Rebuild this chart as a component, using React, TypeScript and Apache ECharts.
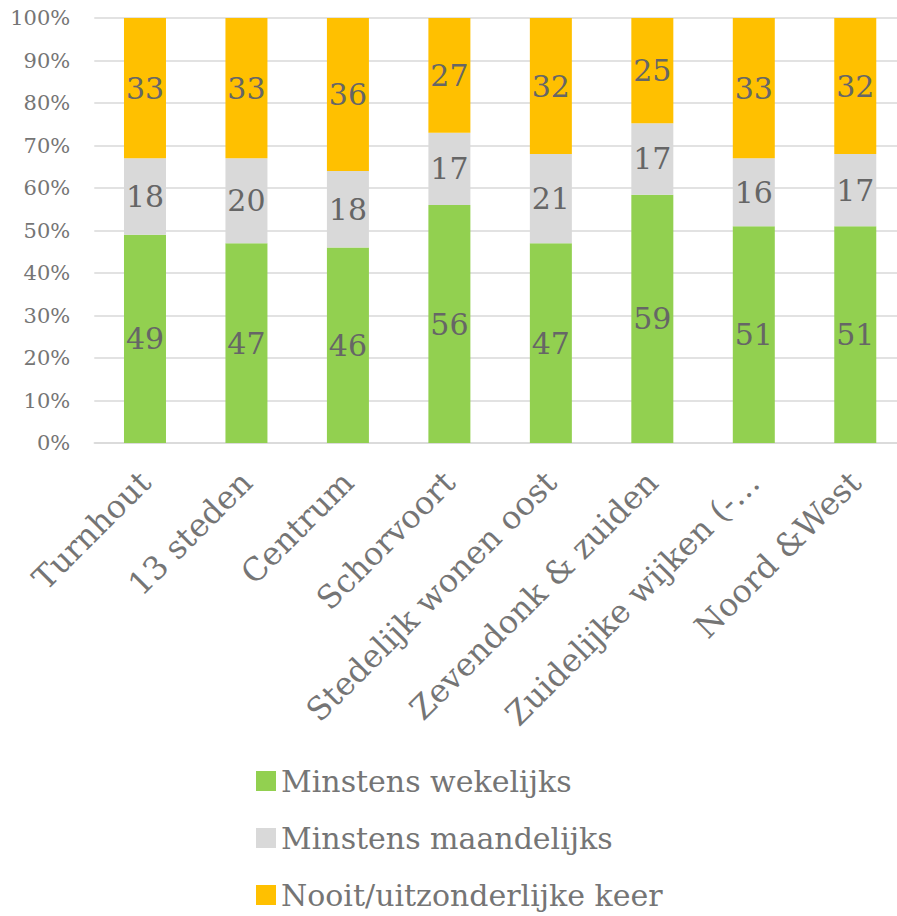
import React, { useEffect, useRef } from "react";
import * as echarts from "echarts";

const categories = [
  "Turnhout",
  "13 steden",
  "Centrum",
  "Schorvoort",
  "Stedelijk wonen oost",
  "Zevendonk & zuiden",
  "Zuidelijke wijken (-…",
  "Noord &West",
];
const wekelijks = [49, 47, 46, 56, 47, 59, 51, 51];
const maandelijks = [18, 20, 18, 17, 21, 17, 16, 17];
const nooit = [33, 33, 36, 27, 32, 25, 33, 32];
const yTicks = ["0%", "10%", "20%", "30%", "40%", "50%", "60%", "70%", "80%", "90%", "100%"];

const seriesNames = ["Minstens wekelijks", "Minstens maandelijks", "Nooit/uitzonderlijke keer"];
const seriesColors = ["#92D050", "#D9D9D9", "#FFC000"];

const FONT = "DejaVu Serif";

export default function App() {
  const ref = useRef<HTMLDivElement>(null);
  useEffect(() => {
    if (!ref.current) return;
    const chart = echarts.init(ref.current, undefined, { renderer: "svg" });
    const raw = [wekelijks, maandelijks, nooit];
    const totals = categories.map((_, i) => raw.reduce((s, arr) => s + arr[i], 0));
    chart.setOption({
      animation: false,
      textStyle: { fontFamily: FONT },
      grid: { left: 94.25, right: 6, top: 18, bottom: 473, containLabel: false },
      legend: {
        orient: "vertical",
        left: 256,
        top: 766,
        height: 150,
        padding: 0,
        itemWidth: 20,
        itemHeight: 20,
        itemGap: 27,
        icon: "rect",
        data: seriesNames,
        textStyle: { fontFamily: FONT, fontSize: 30, color: "#757575", padding: [0, 0, 0, 0] },
      },
      xAxis: {
        type: "category",
        data: categories,
        axisTick: { show: false },
        axisLine: { lineStyle: { color: "#D9D9D9", width: 1.5 } },
        axisLabel: {
          rotate: 45,
          interval: 0,
          margin: 34,
          fontFamily: FONT,
          fontSize: 32,
          color: "#757575",
        },
      },
      yAxis: {
        type: "value",
        min: 0,
        max: 100,
        interval: 10,
        axisLine: { show: false },
        axisTick: { show: false },
        splitLine: { lineStyle: { color: "#D9D9D9", width: 1.5 } },
        axisLabel: {
          margin: 24,
          fontFamily: FONT,
          fontSize: 21,
          color: "#757575",
          formatter: (v: number) => yTicks[Math.round(v / 10)],
        },
      },
      series: raw.map((arr, si) => ({
        name: seriesNames[si],
        type: "bar",
        stack: "total",
        barWidth: 42,
        itemStyle: { color: seriesColors[si] },
        label: {
          show: true,
          position: "inside",
          fontFamily: FONT,
          fontSize: 30,
          color: "#666666",
          formatter: (p: any) => String(arr[p.dataIndex]),
        },
        data: arr.map((v, i) => (v / totals[i]) * 100),
      })),
    });
    return () => chart.dispose();
  }, []);
  return (
    <div style={{ position: "absolute", left: 0, top: 0, width: 897, height: 916, overflow: "hidden", background: "#fff" }}>
      <div ref={ref} style={{ width: 912, height: 916 }} />
    </div>
  );
}
